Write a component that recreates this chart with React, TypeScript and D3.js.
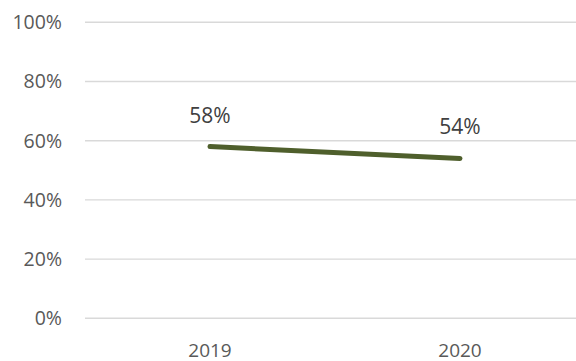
import React from "react";
import * as d3 from "d3";

const categories = ["2019", "2020"];
const values = [0.58, 0.54];
const yTicks = [0, 0.2, 0.4, 0.6, 0.8, 1.0];

const W = 576;
const H = 361;
const FONT = "'Open Sans', 'Noto Sans', sans-serif";

export default function App() {
  const x = d3.scaleBand<string>().domain(categories).range([85, 585]).padding(0);
  const y = d3.scaleLinear().domain([0, 1]).range([318.3, 22.3]);
  const fmt = d3.format(".0%");
  const cx = (c: string) => (x(c) as number) + x.bandwidth() / 2;
  const line = d3
    .line<number>()
    .x((_, i) => cx(categories[i]))
    .y((v) => y(v));

  return (
    <svg
      width={W}
      height={H}
      style={{ position: "absolute", left: 0, top: 0, background: "#fff" }}
      fontFamily={FONT}
    >
      {yTicks.map((t) => (
        <g key={t}>
          <line x1={85} x2={W} y1={y(t)} y2={y(t)} stroke="#D9D9D9" strokeWidth={1.4} />
          <text x={62} y={y(t) + 6.8} textAnchor="end" fontSize={19.5} fill="#595959">
            {fmt(t)}
          </text>
        </g>
      ))}
      {categories.map((c) => (
        <text key={c} x={cx(c)} y={356.5} textAnchor="middle" fontSize={19} fill="#595959">
          {c}
        </text>
      ))}
      <path
        d={line(values) || ""}
        fill="none"
        stroke="#4F5F2C"
        strokeWidth={5}
        strokeLinecap="round"
      />
      {values.map((v, i) => (
        <text
          key={i}
          x={cx(categories[i])}
          y={y(v) - 24}
          textAnchor="middle"
          fontSize={21}
          fill="#404040"
        >
          {fmt(v)}
        </text>
      ))}
    </svg>
  );
}
